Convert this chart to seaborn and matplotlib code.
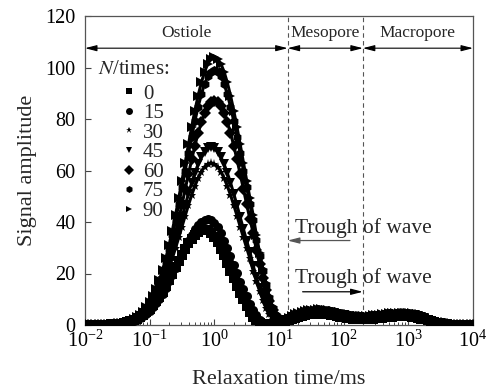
import numpy as np
import pandas as pd
import matplotlib
matplotlib.use("Agg")
import matplotlib.pyplot as plt
import seaborn as sns

# Relaxation-time grid (ms): 121 log-spaced points from 1e-2 to 1e4
t2_ms = np.logspace(-2, 4, 121)

cycles = ["0", "15", "30", "45", "60", "75", "90"]

# --- signal amplitudes (main peak part, T2 <= 10^1.05 ms) ---
peak_n0 = [0, 0, 0,
           0.03, 0.04, 0.07, 0.10, 0.14, 0.21, 0.29, 0.41, 0.57, 0.78,
           1.06, 1.41, 1.86, 2.43, 3.13, 3.98, 5.01, 6.22, 7.62, 9.21,
           11.0, 13.0, 15.2, 17.5, 19.9, 22.4, 24.9, 27.3, 29.6, 31.7,
           33.5, 35.0, 36.1, 36.8, 37.0,
           36.7, 35.7, 34.2, 32.2, 29.6, 27.0, 24.1, 21.1, 18.1, 15.2,
           12.6, 10.0, 7.4, 5.2, 3.3, 1.9, 0.7, 0.2,
           0.1, 0.2, 0.3, 0.4, 0.7, 1.0]
peak_n15 = [0, 0, 0, 0,
            0.03, 0.05, 0.07, 0.11, 0.16, 0.23, 0.32, 0.46, 0.63, 0.87,
            1.17, 1.57, 2.07, 2.69, 3.47, 4.42, 5.55, 6.89, 8.45, 10.2,
            12.2, 14.4, 16.9, 19.4, 22.1, 24.9, 27.6, 30.3, 32.8, 35.1,
            37.1, 38.8, 40.0, 40.7, 41.0,
            40.6, 39.6, 37.9, 35.7, 32.8, 29.9, 26.7, 23.4, 20.1, 16.8,
            13.9, 11.1, 8.2, 5.7, 3.7, 2.1, 0.8, 0.3,
            0.2, 0.3, 0.4, 0.7, 1.0]
peak_n30 = [0, 0, 0, 0, 0,
            0.05, 0.08, 0.11, 0.17, 0.24, 0.35, 0.50, 0.70, 0.97, 1.33,
            1.80, 2.41, 3.18, 4.14, 5.34, 6.79, 8.52, 10.6, 13.0, 15.7,
            18.8, 22.2, 25.9, 29.9, 34.0, 38.2, 42.5, 46.6, 50.5, 54.0,
            57.1, 59.6, 61.5, 62.6, 63.0,
            62.6, 61.5, 59.6, 57.1, 54.0, 50.5, 46.6, 42.5, 38.2, 34.0,
            29.9, 25.9, 21.1, 17.0, 13.2, 9.8,
            6.7, 4.3, 2.5, 1.4, 1.1, 1.2]
peak_n45 = [0, 0, 0, 0, 0,
            0.06, 0.08, 0.12, 0.18, 0.27, 0.38, 0.55, 0.77, 1.06, 1.46,
            1.97, 2.64, 3.48, 4.53, 5.84, 7.43, 9.34, 11.6, 14.2, 17.2,
            20.6, 24.3, 28.4, 32.7, 37.2, 41.8, 46.5, 51.0, 55.3, 59.1,
            62.5, 65.3, 67.3, 68.6, 69.0,
            68.6, 67.3, 65.3, 62.5, 59.1, 55.3, 51.0, 46.5, 41.8, 37.2,
            32.7, 28.4, 23.1, 18.6, 14.5, 10.7,
            7.3, 4.7, 2.7, 1.5, 1.1, 1.2]
peak_n60 = [0, 0, 0, 0, 0, 0,
            0.07, 0.10, 0.16, 0.23, 0.34, 0.48, 0.69, 0.97, 1.34, 1.84,
            2.49, 3.32, 4.38, 5.72, 7.37, 9.37, 11.8, 14.6, 17.9, 21.7,
            25.9, 30.6, 35.8, 41.2, 46.9, 52.8, 58.6, 64.3, 69.7, 74.6,
            78.8, 82.3, 84.9, 86.5, 87.0,
            86.5, 84.9, 82.3, 78.8, 74.6, 69.7, 64.3, 58.6, 52.8, 46.9,
            41.2, 35.8, 29.1, 23.5, 18.3,
            13.6, 9.3, 6.0, 3.5, 2.1, 1.6]
peak_n75 = [0, 0, 0, 0, 0, 0,
            0.08, 0.12, 0.18, 0.26, 0.38, 0.55, 0.78, 1.10, 1.52, 2.09,
            2.83, 3.78, 4.99, 6.50, 8.39, 10.7, 13.4, 16.6, 20.4, 24.7,
            29.5, 34.8, 40.7, 46.9, 53.4, 60.0, 66.7, 73.2, 79.3, 84.8,
            89.7, 93.7, 96.6, 98.4, 99.0,
            98.4, 96.6, 93.7, 89.7, 84.8, 79.3, 73.2, 66.7, 60.0, 53.4,
            46.9, 40.7, 33.2, 26.7, 20.8,
            15.4, 10.6, 6.7, 4.0, 2.3, 1.7]
peak_n90 = [0, 0, 0, 0, 0, 0,
            0.08, 0.12, 0.19, 0.28, 0.40, 0.58, 0.82, 1.15, 1.60, 2.19,
            2.97, 3.97, 5.24, 6.83, 8.81, 11.2, 14.1, 17.5, 21.4, 25.9,
            31.0, 36.6, 42.7, 49.3, 56.1, 63.1, 70.1, 76.9, 83.3, 89.1,
            94.2, 98.4, 101.5, 103.4, 104.0,
            103.4, 101.5, 98.4, 94.2, 89.1, 83.3, 76.9, 70.1, 63.1, 56.1,
            49.3, 42.7, 34.8, 28.1, 21.8,
            16.2, 11.1, 7.1, 4.1, 2.4, 1.7]

# --- small meso/macro-pore peaks (T2 from 10^1.1 ms to 10^4 ms) ---
tail_low = [1.6, 2.1, 2.5, 2.9, 3.3, 3.6, 3.9, 4.1, 4.2, 4.3,
            4.4, 4.4, 4.3, 4.2, 4.0, 3.8, 3.6, 3.3, 3.0, 2.8,
            2.6, 2.5, 2.4, 2.3, 2.3, 2.3, 2.4, 2.5, 2.6, 2.8,
            2.9, 3.1, 3.2, 3.3, 3.4, 3.5, 3.5, 3.5, 3.4, 3.3,
            3.1, 2.8, 2.5, 2.2, 1.8, 1.4, 1.1, 0.8, 0.5, 0.35,
            0.2, 0.12, 0.06, 0.03, 0, 0, 0, 0, 0]
tail_mid = [1.9, 2.5, 3.0, 3.5, 3.9, 4.3, 4.6, 4.8, 5.0, 5.1,
            5.2, 5.2, 5.1, 5.0, 4.8, 4.6, 4.3, 4.0, 3.7, 3.5,
            3.3, 3.1, 3.0, 2.9, 2.9, 2.9, 3.0, 3.1, 3.2, 3.4,
            3.5, 3.7, 3.8, 3.9, 4.0, 4.1, 4.1, 4.1, 4.0, 3.9,
            3.7, 3.4, 3.0, 2.6, 2.1, 1.7, 1.3, 0.9, 0.6, 0.4,
            0.25, 0.15, 0.08, 0.04, 0, 0, 0, 0, 0]
tail_high = [2.2, 2.9, 3.6, 4.1, 4.6, 5.0, 5.4, 5.7, 5.9, 6.0,
             6.1, 6.1, 6.0, 5.8, 5.6, 5.3, 5.0, 4.7, 4.4, 4.1,
             3.9, 3.7, 3.6, 3.5, 3.5, 3.5, 3.6, 3.7, 3.8, 4.0,
             4.2, 4.3, 4.5, 4.6, 4.7, 4.8, 4.8, 4.8, 4.7, 4.5,
             4.3, 4.0, 3.5, 3.0, 2.5, 2.0, 1.5, 1.1, 0.7, 0.45,
             0.3, 0.18, 0.1, 0.05, 0, 0, 0, 0, 0]

amp_n0 = peak_n0 + tail_low
amp_n15 = peak_n15 + tail_low
amp_n30 = peak_n30 + tail_mid
amp_n45 = peak_n45 + tail_mid
amp_n60 = peak_n60 + tail_mid
amp_n75 = peak_n75 + tail_high
amp_n90 = peak_n90 + tail_high
series = [amp_n0, amp_n15, amp_n30, amp_n45, amp_n60, amp_n75, amp_n90]

# pore-class boundaries (ms) and labels
bound_ms = [13.6, 198.0]
pore_labels = ["Ostiole", "Mesopore", "Macropore"]

frames = []
for lab, vals in zip(cycles, series):
    frames.append(pd.DataFrame({"T2": t2_ms, "amp": vals, "N": lab}))
df = pd.concat(frames, ignore_index=True)

sns.set_style("ticks")
plt.rcParams["font.family"] = ["Liberation Serif", "DejaVu Serif"]
plt.rcParams["mathtext.fontset"] = "stix"

W, H = 491, 389
fig = plt.figure(figsize=(W / 100, H / 100), dpi=100)
ax = fig.add_axes([85 / W, 64 / H, 388 / W, 309 / H])

markers = {"0": "s", "15": "o", "30": "*", "45": "v", "60": "D", "75": "h", "90": ">"}
sns.lineplot(data=df, x="T2", y="amp", style="N", style_order=cycles,
             markers=markers, dashes=False, color="black", lw=2.2,
             markersize=6.5, markeredgewidth=0, sort=False,
             ax=ax, legend=True, zorder=3)

ax.set_xscale("log")
ax.set_xlim(1e-2, 1e4)
ax.set_ylim(0, 120)
ax.set_yticks(range(0, 121, 20))
ax.xaxis.set_major_locator(matplotlib.ticker.LogLocator(base=10, numticks=10))
ax.xaxis.set_minor_locator(matplotlib.ticker.LogLocator(base=10, subs=np.arange(2, 10), numticks=20))
ax.xaxis.set_minor_formatter(matplotlib.ticker.NullFormatter())
ax.tick_params(which="both", direction="in", top=False, right=False, colors="#444444",
               labelcolor="black", labelsize=14.5)
ax.tick_params(which="major", length=4, width=0.8)
ax.tick_params(which="minor", length=2.5, width=0.7)
ax.tick_params(axis="y", pad=7)
ax.tick_params(axis="x", pad=4)
for sp in ax.spines.values():
    sp.set_color("#555555")
    sp.set_linewidth(0.9)

ax.set_xlabel("Relaxation time/ms", fontsize=16, labelpad=13)
ax.set_ylabel("Signal amplitude", fontsize=16, labelpad=6)

# pore-class boundaries
for b in bound_ms:
    ax.axvline(b, color="#555555", lw=0.8, ls=(0, (4, 3)), zorder=1)

# region arrows and labels
edges = [1e-2] + bound_ms + [1e4]
arrow_style = "<|-|>,head_length=0.7,head_width=0.18"
for i, lab in enumerate(pore_labels):
    x0, x1 = edges[i], edges[i + 1]
    ax.annotate("", xy=(x0, 107.5), xytext=(x1, 107.5),
                arrowprops=dict(arrowstyle=arrow_style, color="black", lw=0.8,
                                shrinkA=0, shrinkB=0, mutation_scale=10))
    xc = np.sqrt(x0 * x1)
    ax.text(xc, 113.5, lab, ha="center", va="center", fontsize=12.5)

# trough annotations
ax.text(17.6, 35.7, "Trough of wave", ha="left", va="baseline", fontsize=15.5)
ax.annotate("", xy=(bound_ms[0], 32.8), xytext=(125, 32.8),
            arrowprops=dict(arrowstyle="-|>,head_length=0.7,head_width=0.18",
                            color="#555555", lw=0.9, shrinkA=0, shrinkB=0,
                            mutation_scale=10))
ax.text(17.6, 16.4, "Trough of wave", ha="left", va="baseline", fontsize=15.5)
ax.annotate("", xy=(bound_ms[1], 12.9), xytext=(23.2, 12.9),
            arrowprops=dict(arrowstyle="-|>,head_length=0.7,head_width=0.18",
                            color="black", lw=0.9, shrinkA=0, shrinkB=0,
                            mutation_scale=10))

# legend (markers only)
handles, labels = ax.get_legend_handles_labels()
if ax.get_legend() is not None:
    ax.get_legend().remove()
for h in handles:
    h.set_linestyle("none")
    h.set_markersize(5)
leg = ax.legend(handles, labels, loc="upper left",
                bbox_to_anchor=(124 / W, 1 - 84 / H), bbox_transform=fig.transFigure,
                frameon=False, fontsize=15, handlelength=0.5, handletextpad=0.4,
                labelspacing=0.0, borderpad=0, borderaxespad=0)
fig.text(98 / W, 1 - 70 / H, r"$N$/times:", ha="left", va="center", fontsize=15)

fig.savefig("out.png", dpi=100)
